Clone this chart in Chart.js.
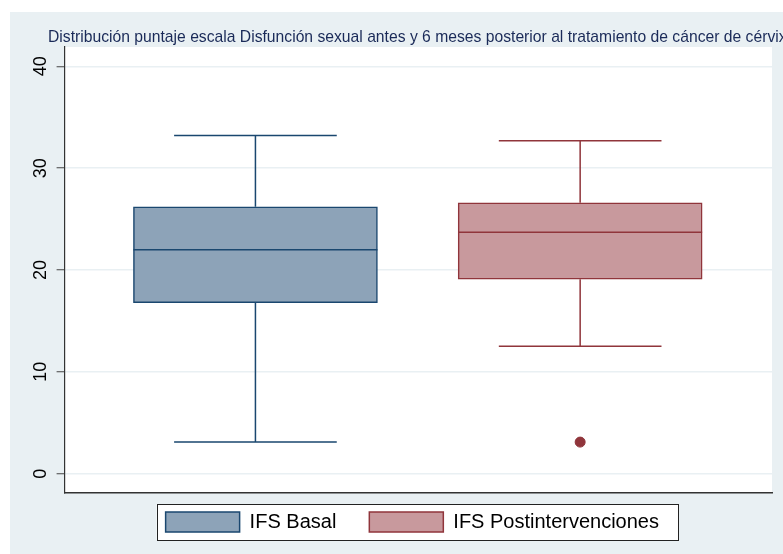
<!DOCTYPE html>
<html>
<head>
<meta charset="utf-8">
<script src="https://cdn.jsdelivr.net/npm/chart.js@4/dist/chart.umd.min.js"></script>
<style>
  html, body { margin: 0; padding: 0; background: #ffffff; }
  #wrap { width: 783px; height: 554px; position: relative; }
</style>
</head>
<body>
<div id="wrap"><canvas id="box"></canvas></div>
<script>
const groups = ['IFS Basal', 'IFS Postintervenciones'];
const groupX = [1, 2];
const whiskerLow = [3.1, 12.5];
const q1 = [16.8, 19.1];
const medians = [22.0, 23.7];
const q3 = [26.2, 26.6];
const whiskerHigh = [33.2, 32.7];
const outliers = [[], [3.1]];
const yTicks = [0, 10, 20, 30, 40];

const titleText = 'Distribución puntaje escala Disfunción sexual antes y 6 meses posterior al tratamiento de cáncer de cérvix';
const fills = ['#8da3b8', '#c8999d'];
const lines = ['#1a476f', '#90353b'];
const BOX_W = 244;
const FONT = '"Liberation Sans", Arial, sans-serif';

const outlierPoints = [];
outliers.forEach((arr, i) => arr.forEach(v => outlierPoints.push({ x: groupX[i], y: v })));

// background, plot region, title and legend frame
const stataFrame = {
  id: 'stataFrame',
  afterLayout(chart) {
    const lg = chart.legend;
    lg.left -= 6;
    lg.right -= 6;
    lg.top = 479;
  },
  beforeDraw(chart) {
    const { ctx, chartArea: a } = chart;
    ctx.save();
    ctx.fillStyle = '#ffffff';
    ctx.fillRect(0, 0, chart.width, chart.height);
    ctx.fillStyle = '#e9f0f3';
    ctx.fillRect(10, 12, chart.width - 10, chart.height - 12);
    ctx.fillStyle = '#ffffff';
    ctx.fillRect(a.left, a.top, a.right - a.left, a.bottom - a.top);

    ctx.fillStyle = '#1a2a58';
    ctx.font = '15.7px ' + FONT;
    ctx.textBaseline = 'middle';
    ctx.textAlign = 'left';
    ctx.fillText(titleText, 48, 38);

    const lg = chart.legend;
    const pad = lg.options.labels.padding;
    const lw = lg.lineWidths[0];
    const startX = (lg.left + pad + lg.right - lw) / 2;
    const endX = startX + lw - pad;
    const top = lg.top + pad;
    ctx.fillStyle = '#ffffff';
    ctx.fillRect(startX - 9, top - 8, endX - startX + 28, 36);
    ctx.strokeStyle = '#222222';
    ctx.lineWidth = 1;
    ctx.strokeRect(Math.round(startX - 9) + 0.5, top - 8 + 0.5, Math.round(endX - startX + 28), 36);
    ctx.restore();
  }
};

// whiskers behind the boxes, medians on top
const boxParts = {
  id: 'boxParts',
  beforeDatasetsDraw(chart) {
    const { ctx, scales: { x, y } } = chart;
    ctx.save();
    ctx.lineWidth = 1.5;
    groups.forEach((g, i) => {
      const cx = x.getPixelForValue(groupX[i]);
      const cap = BOX_W / 3;
      ctx.strokeStyle = lines[i];
      ctx.beginPath();
      ctx.moveTo(cx, y.getPixelForValue(whiskerLow[i]));
      ctx.lineTo(cx, y.getPixelForValue(q1[i]));
      ctx.moveTo(cx, y.getPixelForValue(q3[i]));
      ctx.lineTo(cx, y.getPixelForValue(whiskerHigh[i]));
      ctx.moveTo(cx - cap, y.getPixelForValue(whiskerLow[i]));
      ctx.lineTo(cx + cap, y.getPixelForValue(whiskerLow[i]));
      ctx.moveTo(cx - cap, y.getPixelForValue(whiskerHigh[i]));
      ctx.lineTo(cx + cap, y.getPixelForValue(whiskerHigh[i]));
      ctx.stroke();
    });
    ctx.restore();
  },
  afterDatasetsDraw(chart) {
    const { ctx, scales: { x, y } } = chart;
    ctx.save();
    ctx.lineWidth = 1.5;
    groups.forEach((g, i) => {
      const cx = x.getPixelForValue(groupX[i]);
      const my = y.getPixelForValue(medians[i]);
      ctx.strokeStyle = lines[i];
      ctx.beginPath();
      ctx.moveTo(cx - BOX_W / 2, my);
      ctx.lineTo(cx + BOX_W / 2, my);
      ctx.stroke();
    });
    ctx.restore();
  }
};

new Chart(document.getElementById('box'), {
  type: 'bar',
  data: {
    datasets: [
      {
        label: groups[0],
        data: [{ x: groupX[0], y: [q1[0], q3[0]] }],
        backgroundColor: fills[0],
        borderColor: lines[0],
        borderWidth: 1.5,
        borderSkipped: false,
        barThickness: BOX_W,
        grouped: false
      },
      {
        label: groups[1],
        data: [{ x: groupX[1], y: [q1[1], q3[1]] }],
        backgroundColor: fills[1],
        borderColor: lines[1],
        borderWidth: 1.5,
        borderSkipped: false,
        barThickness: BOX_W,
        grouped: false
      },
      {
        type: 'scatter',
        label: 'outliers',
        data: outlierPoints,
        backgroundColor: lines[1],
        borderColor: lines[1],
        pointRadius: 5,
        order: -1
      }
    ]
  },
  options: {
    responsive: true,
    maintainAspectRatio: false,
    animation: false,
    devicePixelRatio: 1,
    layout: { padding: { top: 47, left: 23, right: 11, bottom: -2 } },
    scales: {
      x: {
        type: 'linear',
        offset: false,
        min: 0.4123,
        max: 2.5908,
        afterFit(scale) { scale.height = 0; },
        grid: { display: false },
        ticks: { display: false },
        border: { display: true, color: '#333333', width: 1.5 }
      },
      y: {
        min: -1.9,
        max: 41.9,
        afterBuildTicks(scale) {
          scale.ticks = yTicks.map(v => ({ value: v }));
        },
        grid: { color: '#e9f0f3', lineWidth: 1.5, tickColor: '#444444', tickLength: 8, tickWidth: 1 },
        border: { display: true, color: '#333333', width: 1.2 },
        ticks: {
          minRotation: 90,
          maxRotation: 90,
          crossAlign: 'center',
          padding: 6,
          color: '#000000',
          font: { family: FONT, size: 18 }
        }
      }
    },
    plugins: {
      tooltip: { enabled: false },
      title: { display: false },
      legend: {
        position: 'bottom',
        fullSize: false,
        labels: {
          filter: item => item.datasetIndex < 2,
          boxWidth: 74,
          boxHeight: 20,
          padding: 33,
          color: '#000000',
          font: { family: FONT, size: 20 }
        }
      }
    }
  },
  plugins: [stataFrame, boxParts]
});
</script>
</body>
</html>
